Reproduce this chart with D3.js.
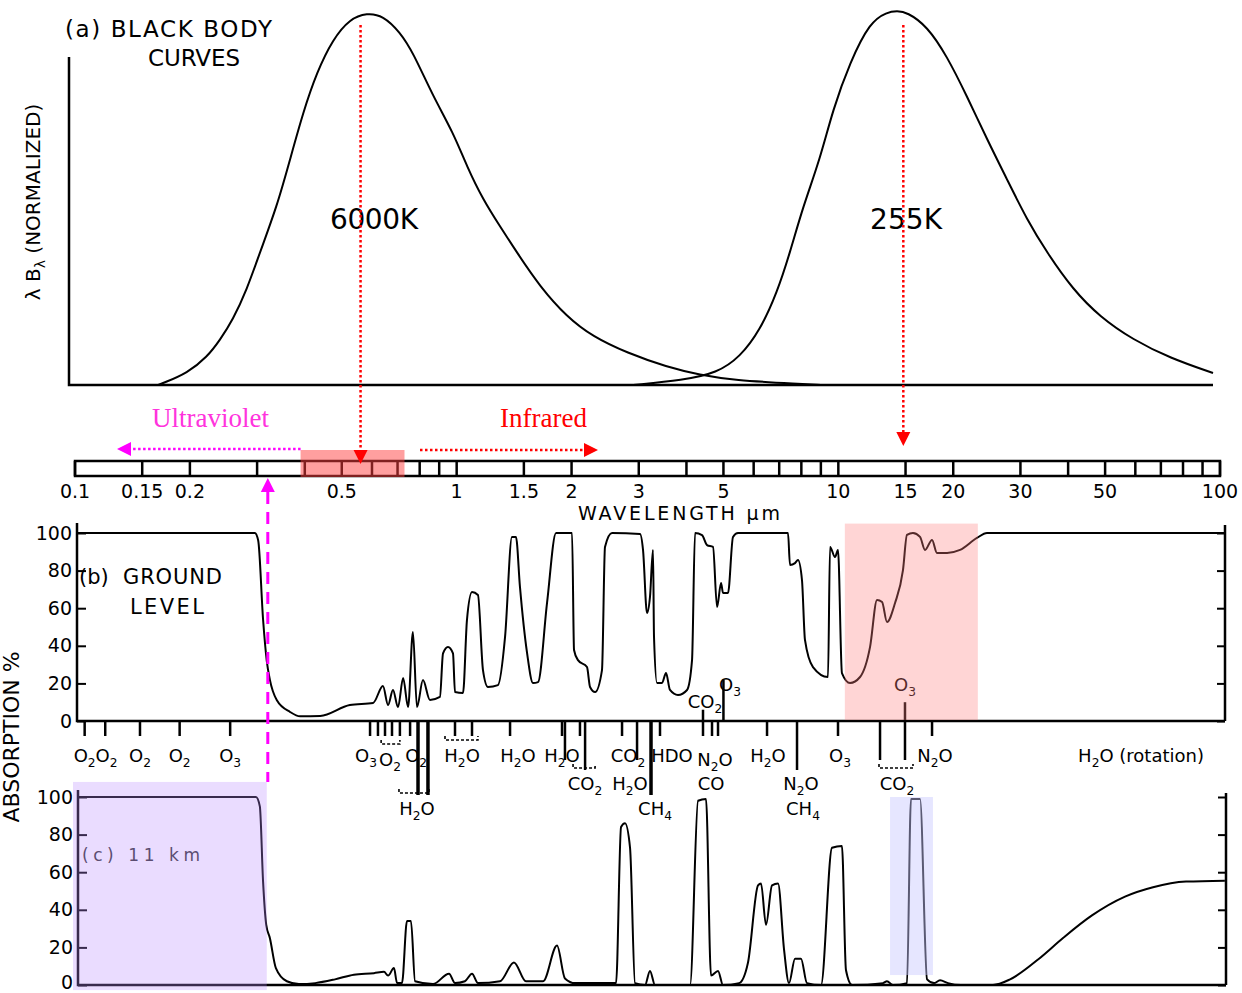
<!DOCTYPE html>
<html><head><meta charset="utf-8">
<script src="https://cdn.jsdelivr.net/npm/d3@7"></script>
<style>body{margin:0;background:#fff}svg{display:block}text{font-family:"DejaVu Sans",sans-serif}</style>
</head><body><svg id="c" width="1242" height="993"></svg>
<script>
// ---------- DATA (wavelength in micrometres) ----------
const bb6000 = [[0.165,0],[0.170,0.005],[0.197,0.032],[0.222,0.075],[0.240,0.121],[0.259,0.174],[0.282,0.255],[0.305,0.354],[0.338,0.477],[0.366,0.603],[0.396,0.729],[0.430,0.836],[0.474,0.925],[0.525,0.979],[0.582,0.995],[0.641,0.988],[0.710,0.944],[0.768,0.890],[0.867,0.772],[0.978,0.676],[1.064,0.584],[1.172,0.496],[1.299,0.424],[1.439,0.354],[1.653,0.263],[1.945,0.182],[2.276,0.129],[2.794,0.086],[3.557,0.048],[4.341,0.027],[5.297,0.013],[7.935,0.003],[9.0,0]];
const bb255 = [[2.9,0],[3.92,0.013],[4.81,0.032],[5.53,0.075],[6.24,0.147],[6.91,0.247],[7.47,0.354],[8.08,0.477],[8.95,0.603],[9.68,0.737],[10.73,0.863],[12.11,0.971],[13.41,0.997],[14.25,1.0],[15.13,0.997],[17.08,0.960],[19.27,0.879],[21.73,0.772],[24.52,0.657],[27.66,0.550],[31.21,0.442],[35.21,0.354],[41.19,0.255],[48.48,0.182],[59.16,0.121],[73.95,0.072],[95.87,0.032]];
const groundLevel = [[0.1012,100],[0.296,100],[0.302,96],[0.311,54],[0.318,32],[0.324,22],[0.338,11],[0.366,4.8],[0.389,2.5],[0.439,2.7],[0.525,8.5],[0.604,9.6],[0.641,18.6],[0.661,8.5],[0.681,16.5],[0.702,7.4],[0.724,22.9],[0.746,7.4],[0.768,47.3],[0.787,7.4],[0.816,21.8],[0.851,11.2],[0.904,12.8],[0.921,36],[0.949,39.4],[0.978,36],[0.990,15.4],[1.039,14.9],[1.064,53.7],[1.097,68.6],[1.137,67],[1.172,27.1],[1.208,18.1],[1.283,19.1],[1.339,44.7],[1.396,97.9],[1.430,97.9],[1.465,71.3],[1.529,36.2],[1.585,20.2],[1.634,20.7],[1.725,62.8],[1.821,100],[2.006,100],[2.030,37.8],[2.079,32.4],[2.195,28.7],[2.236,18.1],[2.305,15.4],[2.403,27.1],[2.447,92.6],[2.553,100],[3.023,99.5],[3.078,91],[3.153,57.4],[3.210,66],[3.269,91],[3.289,44.7],[3.349,20.2],[3.451,20.2],[3.536,25.5],[3.622,16.5],[3.801,13.8],[4.014,16.5],[4.137,32.4],[4.212,100],[4.394,98.9],[4.529,93.6],[4.695,92.6],[4.811,60.6],[4.928,73.4],[4.987,68.1],[5.140,68.1],[5.297,97.9],[5.460,100],[7.381,100],[7.470,83],[7.700,84],[7.840,85.6],[8.030,75],[8.177,43.1],[8.582,28.7],[9.396,23.4],[9.511,92.6],[9.801,87.2],[9.980,91],[10.22,25.5],[10.73,20.2],[11.40,23.4],[12.11,39.4],[12.63,64.4],[13.02,63.3],[13.41,52.7],[14.08,62.8],[14.77,80.3],[15.13,99],[15.69,100],[16.37,97.9],[16.87,91],[17.60,96.3],[18.13,89.4],[19.27,89.4],[20.84,91],[23.08,97.4],[24.52,100],[103,100]];
const km11 = [[0.1018,100],[0.298,100],[0.305,95],[0.311,55],[0.317,32],[0.324,25],[0.336,9],[0.359,2],[0.386,0.5],[0.426,1],[0.480,3],[0.538,5.5],[0.607,6.3],[0.645,7],[0.661,5],[0.685,9],[0.698,1],[0.719,1],[0.741,34],[0.759,34],[0.778,2],[0.867,0.5],[0.955,6],[0.990,1],[1.051,2],[1.097,6],[1.137,1],[1.299,2],[1.413,12],[1.519,2],[1.684,2],[1.832,21],[1.922,3.5],[2.042,1],[2.375,1],[2.616,1],[2.696,84],[2.761,86],[2.846,73],[2.933,1],[3.115,0],[3.210,7.5],[3.309,0],[4.088,0],[4.290,98],[4.501,99],[4.639,5],[4.839,7.5],[4.987,0],[5.493,1],[5.799,12],[6.160,53],[6.272,54],[6.464,32],[6.703,53],[6.950,54],[7.206,19],[7.426,1],[7.700,14],[7.983,14],[8.277,1],[9.008,0],[9.625,73],[10.22,74],[10.47,8],[10.86,0],[13.09,1],[13.41,2],[13.91,0],[15.13,1],[15.50,99],[16.37,99],[17.08,3],[17.81,1],[18.47,2.5],[19.38,1],[20.97,0],[25.42,0],[28.18,3],[33.56,14],[38.79,25],[46.19,37],[56.38,47],[66.76,52],[81.48,55],[103,55.5]];
const barTicks = [0.1,0.15,0.2,0.3,0.4,0.5,0.6,0.7,0.8,0.9,1,1.5,2,3,4,5,6,7,8,9,10,15,20,30,40,50,60,70,80,90,100];
const barLabels = ["0.1","0.15","0.2","0.5","1","1.5","2","3","5","10","15","20","30","50","100"];
const absTicks = [0,20,40,60,80,100];
const bandTickWl = [0.106,0.120,0.148,0.188,0.255,0.593,0.622,0.649,0.677,0.710,0.755,0.792,0.841,0.990,1.097,1.380,1.888,1.922,2.104,2.170,2.712,2.969,3.230,3.410,4.420,4.667,4.839,6.504,7.794,9.98,12.86,14.95,17.60];
const bandTickReach = [0,0,0,0,0,0,0,0,0,0,0,3,3,0,0,0,0,1,0,2,0,1,3,0,0,0,0,0,2,0,1,1,0];
const bandLabelText = ["O2","O2","O2","O2","O3","O3","O2","O2","H2O","H2O","H2O","CO2","HDO","N2O","H2O","O3","N2O","H2O (rotation)","CO2","H2O","CO","N2O","CO2","H2O","CH4","CH4","CO2","O3","O3"];
const bandLabelWl   = [0.106,0.121,0.148,0.188,0.255,0.579,0.669,0.783,1.033,1.448,1.888,2.812,3.666,4.753,6.543,10.10,17.92,62.1,2.170,2.846,4.639,7.983,14.25,0.787,3.309,8.080,4.474,5.20,14.95];
const bandLabelRow  = [1,1,1,1,1,1,4,1,1,1,1,1,1,4,1,1,1,1,2,2,2,2,2,3,3,3,5,6,6];
const bracketWl = [[0.634,0.710,4],[0.932,1.137,1],[2.018,2.305,2],[0.706,0.846,3],[12.78,15.69,2]];
const upTickWl = [[4.42,6],[5.0,22],[14.95,10]];
const visibleBand = [0.39,0.73];
const peak6000 = 0.56, peak255 = 14.8, uvEdge = 0.32;
const pinkBand = [10.4,23.2], purpleBand = [0.0988,0.318], blueBand = [13.66,17.7];

// ---------- SCALES ----------
const svg = d3.select("#c");
const x = d3.scaleLog().domain([0.1,100]).range([75,1220]);
const ya = d3.scaleLinear().domain([0,1]).range([385,11]);
const yb = d3.scaleLinear().domain([0,100]).range([721,533]);
const yc = d3.scaleLinear().domain([0,100]).range([985,797]);
const K = "#000";

function chem(g, str, cx, cy, size, anchor) {
  const t = g.append("text").attr("x", cx).attr("y", cy).attr("font-size", size)
    .attr("text-anchor", anchor || "middle").attr("fill", K);
  let sub = false;
  str.split(/(\d)/).forEach(p => {
    if (!p) return;
    if (/^\d$/.test(p)) { t.append("tspan").attr("dy", size*0.25).attr("font-size", size*0.68).text(p); sub = true; }
    else { t.append("tspan").attr("dy", sub ? -size*0.25 : 0).text(p); sub = false; }
  });
  return t;
}

// ---------- PANEL A ----------
const aL = x(0.1) - 6, aR = x(100) - 7;
svg.append("path").attr("d", `M${aL},57V${ya(0)}H${aR}`).attr("fill","none").attr("stroke",K).attr("stroke-width",2.5);
const lineA = d3.line().x(d => x(d[0])).y(d => ya(d[1])).curve(d3.curveBasis);
[bb6000, bb255].forEach(s => svg.append("path").attr("d", lineA(s)).attr("fill","none").attr("stroke",K).attr("stroke-width",2));
svg.append("text").attr("x",65).attr("y",37).attr("font-size",23).attr("textLength",207).attr("fill",K).text("(a) BLACK BODY");
svg.append("text").attr("x",148).attr("y",66).attr("font-size",23).attr("textLength",92).attr("fill",K).text("CURVES");
const yl = svg.append("text").attr("transform","translate(40,202) rotate(-90)").attr("text-anchor","middle").attr("font-size",20).attr("fill",K);
yl.append("tspan").text("λ B");
yl.append("tspan").attr("dy",5).attr("font-size",14).text("λ");
yl.append("tspan").attr("dy",-5).text(" (NORMALIZED)");
svg.append("text").attr("x",330).attr("y",229).attr("font-size",28).attr("textLength",88).attr("fill",K).text("6000K");
svg.append("text").attr("x",870).attr("y",229).attr("font-size",28).attr("textLength",72).attr("fill",K).text("255K");

// ---------- WAVELENGTH BAR ----------
const bT = 461, bB = 476;
svg.append("rect").attr("x",x(0.1)).attr("y",bT).attr("width",x(100)-x(0.1)).attr("height",bB-bT).attr("fill","none").attr("stroke",K).attr("stroke-width",2.5);
svg.selectAll(".bt").data(barTicks).enter().append("line").attr("x1",d=>x(d)).attr("x2",d=>x(d)).attr("y1",bT).attr("y2",bB).attr("stroke",K).attr("stroke-width",2.5);
svg.selectAll(".bl").data(barLabels).enter().append("text").attr("x",d=>x(+d)).attr("y",498).attr("text-anchor","middle").attr("font-size",19).attr("fill",K).text(d=>d);
svg.append("text").attr("x",578).attr("y",520).attr("font-size",19).attr("textLength",202).attr("fill",K).text("WAVELENGTH μm");

// ---------- PANEL B ----------
const bL = x(0.1) + 2, bR = x(100) + 5;
svg.append("path").attr("d",`M${bL},523V${yb(0)}H${bR}M${bR},525V${yb(0)}`).attr("fill","none").attr("stroke",K).attr("stroke-width",2.5);
function yAxis(tx, scale, lift) {
  const g = svg.append("g").attr("transform",`translate(${tx},0)`)
    .call(d3.axisLeft(scale).tickValues(absTicks).tickSizeInner(-9).tickSizeOuter(0).tickPadding(5));
  g.select(".domain").remove();
  g.selectAll("text").attr("font-size",19).attr("font-family","DejaVu Sans").attr("fill",K);
  if (lift) g.selectAll(".tick").filter(d => d === 0).select("text").attr("dy","0.2em");
  g.selectAll("line").attr("stroke",K).attr("stroke-width",2);
}
function yAxisR(tx, scale) {
  const g = svg.append("g").attr("transform",`translate(${tx},0)`)
    .call(d3.axisRight(scale).tickValues(absTicks).tickSizeInner(-8).tickSizeOuter(0).tickFormat(""));
  g.select(".domain").remove();
  g.selectAll("line").attr("stroke",K).attr("stroke-width",2);
}
yAxis(bL, yb, false); yAxisR(bR, yb);
const lineB = d3.line().x(d => x(d[0])).y(d => yb(d[1])).curve(d3.curveMonotoneX);
svg.append("path").attr("d",lineB(groundLevel)).attr("fill","none").attr("stroke",K).attr("stroke-width",2);
svg.append("text").attr("x",79).attr("y",584).attr("font-size",21).attr("fill",K).text("(b)");
svg.append("text").attr("x",123).attr("y",584).attr("font-size",21).attr("textLength",99).attr("fill",K).text("GROUND");
svg.append("text").attr("x",130).attr("y",614).attr("font-size",21).attr("textLength",74).attr("fill",K).text("LEVEL");

// band ticks, brackets and labels
const reachY = [736, 760, 770, 795];
svg.selectAll(".bk").data(bandTickWl).enter().append("line")
  .attr("x1",d=>x(d)).attr("x2",d=>x(d)).attr("y1",yb(0)).attr("y2",(d,i)=>reachY[bandTickReach[i]])
  .attr("stroke",K).attr("stroke-width",(d,i)=>bandTickReach[i]===3?3.5:2.5);
svg.selectAll(".up").data(upTickWl).enter().append("line")
  .attr("x1",d=>x(d[0])).attr("x2",d=>x(d[0])).attr("y1",yb(0)).attr("y2",d=>yb(d[1]))
  .attr("stroke",K).attr("stroke-width",2.5);
const rowY = [0, 762, 790, 815, 766, 708, 691];
svg.selectAll(".br").data(bracketWl).enter().append("path")
  .attr("d",d=>{const y0=rowY[d[2]]-22; return `M${x(d[0])},${y0-4}V${y0}H${x(d[1])}V${y0-4}`;})
  .attr("fill","none").attr("stroke",K).attr("stroke-width",1.6).attr("stroke-dasharray","3,2");
const gl = svg.append("g");
bandLabelText.forEach((t,i) => {
  chem(gl, t, x(bandLabelWl[i]), rowY[bandLabelRow[i]], 18, "middle");
});

// ---------- PANEL C ----------
const cL = x(0.1) + 3, cR = x(100) + 6;
svg.append("path").attr("d",`M${cL},790V${yc(0)}H${cR}M${cR},793V${yc(0)}`).attr("fill","none").attr("stroke",K).attr("stroke-width",2.5);
yAxis(cL, yc, true); yAxisR(cR, yc);
const lineC = d3.line().x(d => x(d[0])).y(d => yc(d[1])).curve(d3.curveMonotoneX);
svg.append("path").attr("d",lineC(km11)).attr("fill","none").attr("stroke",K).attr("stroke-width",2);
svg.append("text").attr("x",82).attr("y",861).attr("font-size",17).attr("fill","#333").attr("textLength",118).text("(c)  11  km");
svg.append("text").attr("transform","translate(19,737) rotate(-90)").attr("text-anchor","middle").attr("font-size",22).attr("fill",K).text("ABSORPTION %");

// ---------- HIGHLIGHTS ----------
svg.append("rect").attr("x",x(visibleBand[0])).attr("y",450).attr("width",x(visibleBand[1])-x(visibleBand[0])).attr("height",bB+1-450).attr("fill","#ff4040").attr("opacity",0.5);
svg.append("rect").attr("x",x(pinkBand[0])).attr("y",yb(105)).attr("width",x(pinkBand[1])-x(pinkBand[0])).attr("height",yb(0.5)-yb(105)).attr("fill","#ff8080").attr("opacity",0.33);
svg.append("rect").attr("x",x(purpleBand[0])).attr("y",yc(108)).attr("width",x(purpleBand[1])-x(purpleBand[0])).attr("height",yc(-2.7)-yc(108)).attr("fill","#b98cff").attr("opacity",0.3);
svg.append("rect").attr("x",x(blueBand[0])).attr("y",yc(100)).attr("width",x(blueBand[1])-x(blueBand[0])).attr("height",yc(5.3)-yc(100)).attr("fill","#c8c8ff").attr("opacity",0.45);

// ---------- ANNOTATION ARROWS ----------
const RED = "#ff0000", MAG = "#ff00ff";
function dotted(x1,y1,x2,y2,col,dash,w){ svg.append("line").attr("x1",x1).attr("y1",y1).attr("x2",x2).attr("y2",y2).attr("stroke",col).attr("stroke-width",w||2.5).attr("stroke-dasharray",dash||"2.5,2.5"); }
function head(tx,ty,dir,col){
  const s=7, l=14; let p;
  if(dir==='d') p=`M${tx},${ty}L${tx-s},${ty-l}L${tx+s},${ty-l}Z`;
  if(dir==='u') p=`M${tx},${ty}L${tx-s},${ty+l}L${tx+s},${ty+l}Z`;
  if(dir==='l') p=`M${tx},${ty}L${tx+l},${ty-s}L${tx+l},${ty+s}Z`;
  if(dir==='r') p=`M${tx},${ty}L${tx-l},${ty-s}L${tx-l},${ty+s}Z`;
  svg.append("path").attr("d",p).attr("fill",col);
}
dotted(x(peak6000),25,x(peak6000),452,RED); head(x(peak6000),464,'d',RED);
dotted(x(peak255),25,x(peak255),434,RED); head(x(peak255),446,'d',RED);
dotted(420,450,585,450,RED); head(598,450,'r',RED);
dotted(x(0.39),449,130,449,MAG); head(117,449,'l',MAG);
dotted(x(uvEdge),492,x(uvEdge),782,MAG,"12,8",3); head(x(uvEdge),478,'u',MAG);
svg.append("text").attr("x",152).attr("y",427).attr("font-size",27).attr("fill","#ff33dd").style("font-family","'Liberation Serif',serif").text("Ultraviolet");
svg.append("text").attr("x",500).attr("y",427).attr("font-size",27).attr("fill","#ff0000").style("font-family","'Liberation Serif',serif").text("Infrared");
</script></body></html>
